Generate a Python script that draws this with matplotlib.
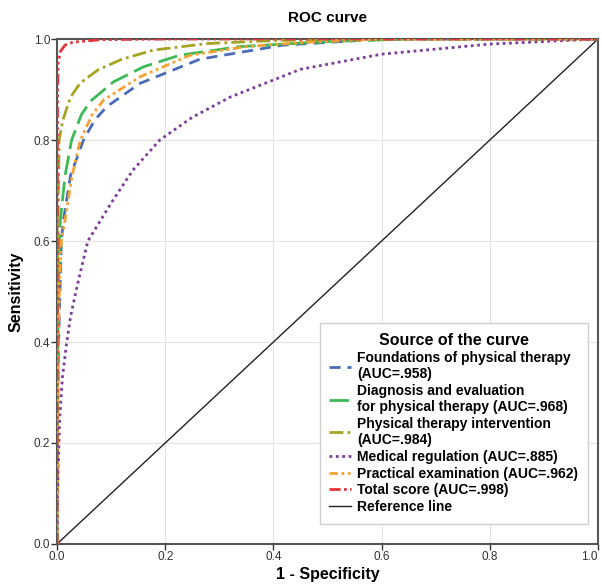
import matplotlib
matplotlib.use("Agg")
import matplotlib.pyplot as plt

plt.rcParams["font.family"] = ["Liberation Sans", "DejaVu Sans"]

# ---- data (1 - specificity, sensitivity) ----
found_x = [0, 0.001, 0.003, 0.006, 0.008, 0.012, 0.025, 0.049, 0.07, 0.092, 0.153, 0.264, 0.418, 0.572, 0.65, 1.0]
found_y = [0, 0.25, 0.40, 0.52, 0.60, 0.642, 0.73, 0.80, 0.84, 0.866, 0.912, 0.960, 0.988, 0.998, 1.0, 1.0]

diag_x = [0, 0.001, 0.002, 0.004, 0.006, 0.015, 0.027, 0.045, 0.061, 0.104, 0.16, 0.227, 0.338, 0.5, 0.65, 1.0]
diag_y = [0, 0.30, 0.45, 0.57, 0.64, 0.73, 0.80, 0.85, 0.876, 0.915, 0.945, 0.968, 0.985, 0.995, 1.0, 1.0]

interv_x = [0, 0.0005, 0.002, 0.004, 0.011, 0.025, 0.043, 0.076, 0.12, 0.178, 0.277, 0.4, 0.55, 1.0]
interv_y = [0, 0.40, 0.65, 0.80, 0.84, 0.885, 0.913, 0.939, 0.96, 0.978, 0.991, 0.997, 1.0, 1.0]

medreg_x = [0, 0.002, 0.005, 0.01, 0.018, 0.025, 0.037, 0.057, 0.1, 0.14, 0.19, 0.25, 0.32, 0.45, 0.6, 0.8, 1.0]
medreg_y = [0, 0.15, 0.25, 0.33, 0.40, 0.45, 0.51, 0.60, 0.675, 0.74, 0.80, 0.845, 0.885, 0.94, 0.97, 0.99, 1.0]

pract_x = [0, 0.001, 0.003, 0.005, 0.008, 0.015, 0.028, 0.043, 0.065, 0.086, 0.153, 0.246, 0.35, 0.45, 0.6, 1.0]
pract_y = [0, 0.25, 0.42, 0.53, 0.60, 0.642, 0.73, 0.80, 0.85, 0.879, 0.925, 0.968, 0.985, 0.993, 1.0, 1.0]

total_x = [0, 0.0005, 0.001, 0.002, 0.006, 0.015, 0.03, 0.043, 0.08, 0.2, 1.0]
total_y = [0, 0.60, 0.90, 0.95, 0.975, 0.988, 0.994, 0.995, 0.9986, 1.0, 1.0]

ref_x = [0, 1]
ref_y = [0, 1]

series = [
    ("Foundations of physical therapy\n(AUC=.958)", found_x, found_y, "#4a6cb8", (0, (4, 2.5))),
    ("Diagnosis and evaluation\nfor physical therapy (AUC=.968)", diag_x, diag_y, "#3dba55", (0, (7, 2.5))),
    ("Physical therapy intervention\n(AUC=.984)", interv_x, interv_y, "#a5a322", (0, (5, 1.5, 1, 1.5))),
    ("Medical regulation (AUC=.885)", medreg_x, medreg_y, "#7d3c98", (0, (1, 1.3))),
    ("Practical examination (AUC=.962)", pract_x, pract_y, "#f5a233", (0, (3, 1.3, 1, 1.3, 1, 1.3))),
    ("Total score (AUC=.998)", total_x, total_y, "#e5343c", (0, (4, 1.2, 1, 1.2, 1, 1.2, 1, 1.2))),
]

fig = plt.figure(figsize=(6.02, 5.85), dpi=100)
ax = fig.add_axes([0.0947, 0.0701, 0.8987, 0.8632])

for label, xs, ys, col, ls in series:
    ax.plot(xs, ys, color=col, lw=2, linestyle=ls, label=label, zorder=3)
ax.plot(ref_x, ref_y, color="#222222", lw=1, label="Reference line", zorder=2)

ax.set_xlim(0, 1)
ax.set_ylim(0, 1)
ticks = [0, 0.2, 0.4, 0.6, 0.8, 1.0]
ax.set_xticks(ticks)
ax.set_yticks(ticks)
ax.set_xticklabels(["0.0", "0.2", "0.4", "0.6", "0.8", "1.0"])
ax.set_yticklabels(["0.0", "0.2", "0.4", "0.6", "0.8", "1.0"])
ax.tick_params(labelsize=8.5, length=4, width=1, colors="#333333", pad=1)
# last x label sits on the figure edge; right-align so it stays readable
ax.get_xticklabels()[-1].set_horizontalalignment("right")
ax.grid(color="#e3e3e3", lw=0.8, zorder=0)
for s in ax.spines.values():
    s.set_color("#555555")
    s.set_linewidth(1.5)

ax.set_title("ROC curve", fontsize=11, fontweight="bold", pad=12)
ax.set_xlabel("1 - Specificity", fontsize=11.5, fontweight="bold", labelpad=3)
ax.set_ylabel("Sensitivity", fontsize=11.5, fontweight="bold", labelpad=7)

leg = ax.legend(loc="lower right", bbox_to_anchor=(0.981, 0.04), borderaxespad=0,
                title="Source of the curve", fontsize=10, title_fontsize=11.5,
                handlelength=1.6, handletextpad=0.4, labelspacing=0.2,
                borderpad=0.7, fancybox=False, framealpha=1,
                edgecolor="#d0d0d0", alignment="center")
leg.get_title().set_fontweight("bold")
for t in leg.get_texts():
    t.set_fontweight("bold")
leg.get_frame().set_linewidth(1)

fig.savefig("out.png", dpi=100)
